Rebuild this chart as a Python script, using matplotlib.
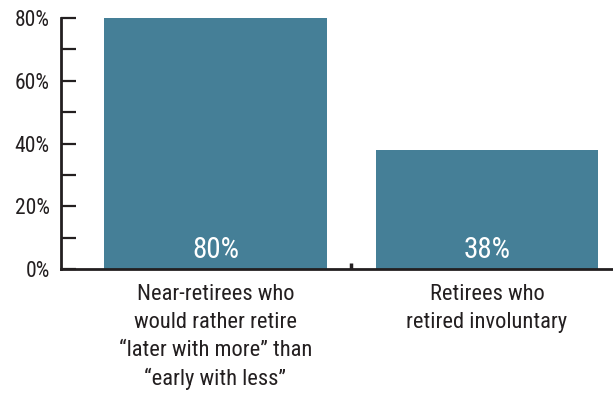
import matplotlib.pyplot as plt

categories = [
    "Near-retirees who\nwould rather retire\n\u201clater with more\u201d than\n\u201cearly with less\u201d",
    "Retirees who\nretired involuntary",
]
values = [80, 38]
value_labels = ["80%", "38%"]
yticks = [0, 20, 40, 60, 80]
ytick_labels = ["0%", "20%", "40%", "60%", "80%"]

plt.rcParams["font.family"] = ["Roboto Condensed", "Archivo Narrow", "DejaVu Sans"]

bar_color = "#457f97"
ink = "#231f20"

fig = plt.figure(figsize=(6.13, 3.94), dpi=100)
ax = fig.add_axes([61 / 613, 125 / 394, 552 / 613, 251 / 394])

x = list(range(len(categories)))
ax.bar(x, values, width=0.82, color=bar_color, zorder=1)

for xi, lab in zip(x, value_labels):
    ax.annotate(lab, (xi, 0), xytext=(0, 14), textcoords="offset points",
                ha="center", va="center", color="white", fontsize=21)

ax.set_xlim(-0.569, 1.464)
ax.set_ylim(0, 80)

for side in ("top", "right"):
    ax.spines[side].set_visible(False)
for side in ("left", "bottom"):
    ax.spines[side].set_color(ink)
    ax.spines[side].set_linewidth(2)
    ax.spines[side].set_zorder(3)

ax.set_yticks(yticks)
ax.set_yticklabels(ytick_labels, fontsize=15.5, color=ink)
ax.set_yticks([10, 30, 50, 70], minor=True)
ax.tick_params(axis="y", which="both", direction="in", length=11, width=1.6,
               color=ink, pad=8)

# category boundary tick plus labels under each bar
ax.set_xticks([0.5])
ax.set_xticklabels([""])
ax.tick_params(axis="x", direction="in", length=4, width=2.5, color=ink)
for xi, cat in zip(x, categories):
    ax.annotate(cat, (xi, 0), xytext=(0, -11), textcoords="offset points",
                ha="center", va="top", fontsize=16.2, color=ink,
                linespacing=1.42, annotation_clip=False)

fig.savefig("out.png", dpi=100)
